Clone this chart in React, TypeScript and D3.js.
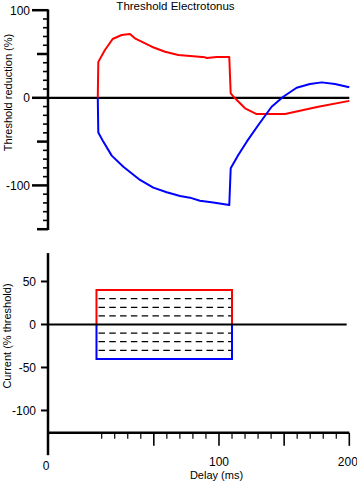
import React from "react";
import * as d3 from "d3";

// ---- data ----
const tedDelay = [7, 7.4, 12.5, 18.4, 25.3, 31.7, 35.5, 48.4, 58.6, 68.8, 89.3, 90.6, 98.2, 107.9, 109, 112.3, 120, 128.9, 150.7, 176.2, 200];
const tedValue = [0, 41, 54.6, 67.1, 71.7, 72.8, 67.9, 58.3, 52.6, 48.9, 46.2, 45.4, 46.6, 46.6, 5, -0.6, -12, -18.6, -18.5, -10.3, -3.5];

const tehDelay = [7, 7.4, 11.2, 17.7, 26.6, 39.4, 49.6, 59.9, 70.1, 77.7, 85.4, 95.6, 107.9, 109, 114.8, 121.3, 130.2, 140.4, 149.3, 159.6, 169.8, 178.8, 189, 200];
const tehValue = [0, -39.5, -50, -66, -78.7, -93.8, -102.6, -107.9, -112, -114, -117.5, -119.4, -122.4, -80.4, -65.3, -50.1, -31.1, -10.2, 1.2, 11.5, 15.7, 17.6, 15.7, 12];

const pulseStart = 6;
const pulseEnd = 110;
const pulseDepol = 40;
const pulseHyperpol = -40;
const dashedLevels = [30, 20, 10, -10, -20, -30];

const topTickValues = d3.range(-150, 101, 10);
const topTickLabels = [100, 0, -100];
const bottomTickValues = [50, 0, -50, -100];
const xMinorTicks = d3.range(10, 201, 10);
const xTickLabels = [
  { value: 100, label: "100" },
  { value: 200, label: "200" },
];

const title = "Threshold Electrotonus";
const topYLabel = "Threshold reduction (%)";
const bottomYLabel = "Current (% threshold)";
const xLabel = "Delay (ms)";

const W = 357;
const H = 482;
const FONT = "'Liberation Sans', Arial, sans-serif";

export default function App() {
  const x = d3.scaleLinear().domain([-31.2, 200]).range([48, 349.3]);
  const yTop = d3.scaleLinear().domain([-150, 100]).range([229.2, 10.2]);
  const yBot = d3.scaleLinear().domain([-152, 83]).range([455.2, 253.1]);
  const xAxisLevel = -126;

  const lineTop = d3
    .line<[number, number]>()
    .x((d) => x(d[0]))
    .y((d) => yTop(d[1]));
  const lineBot = d3
    .line<[number, number]>()
    .x((d) => x(d[0]))
    .y((d) => yBot(d[1]));

  const tedPts: [number, number][] = tedDelay.map((d, i) => [d, tedValue[i]]);
  const tehPts: [number, number][] = tehDelay.map((d, i) => [d, tehValue[i]]);

  const redPulse: [number, number][] = [
    [pulseStart, 0],
    [pulseStart, pulseDepol],
    [pulseEnd, pulseDepol],
    [pulseEnd, 0],
  ];
  const bluePulse: [number, number][] = [
    [pulseStart, 0],
    [pulseStart, pulseHyperpol],
    [pulseEnd, pulseHyperpol],
    [pulseEnd, 0],
  ];

  const axisX = x(x.domain()[0]);
  const xEnd = x(200);

  const tickLen = (v: number) => (v % 100 === 0 ? 16 : v % 50 === 0 ? 11 : 5);

  return (
    <svg
      width={W}
      height={H}
      style={{ position: "absolute", left: 0, top: 0, background: "#fff" }}
      fontFamily={FONT}
    >
      {/* title */}
      <text x={175.5} y={9.5} fontSize={11.5} textAnchor="middle" fill="#000">
        {title}
      </text>

      {/* ---------- top panel ---------- */}
      <line x1={axisX} x2={axisX} y1={yTop(100) - 0.8} y2={yTop(-150) + 0.8} stroke="#000" strokeWidth={2.5} />
      {topTickValues.map((v) => (
        <line
          key={"tt" + v}
          x1={axisX - tickLen(v)}
          x2={axisX}
          y1={yTop(v)}
          y2={yTop(v)}
          stroke="#000"
          strokeWidth={v % 50 === 0 ? 2.5 : 1.6}
        />
      ))}
      {topTickLabels.map((v) => (
        <text key={"tl" + v} x={30} y={yTop(v)} dy="0.36em" fontSize={12} textAnchor="end" fill="#000">
          {v}
        </text>
      ))}
      <text
        transform={`translate(11.5,${92.5}) rotate(-90)`}
        fontSize={11}
        textAnchor="middle"
        fill="#000"
      >
        {topYLabel}
      </text>
      <line x1={axisX} x2={xEnd} y1={yTop(0)} y2={yTop(0)} stroke="#000" strokeWidth={2.2} />
      <path d={lineTop(tedPts) || ""} fill="none" stroke="#ff0000" strokeWidth={2} strokeLinejoin="round" />
      <path d={lineTop(tehPts) || ""} fill="none" stroke="#0000ff" strokeWidth={2} strokeLinejoin="round" />

      {/* ---------- bottom panel ---------- */}
      <line x1={axisX} x2={axisX} y1={yBot.range()[1]} y2={yBot.range()[0]} stroke="#000" strokeWidth={2.5} />
      {bottomTickValues.map((v) => (
        <g key={"bt" + v}>
          <line x1={axisX - 7} x2={axisX} y1={yBot(v)} y2={yBot(v)} stroke="#000" strokeWidth={2} />
          <text x={36} y={yBot(v)} dy="0.36em" fontSize={12} textAnchor="end" fill="#000">
            {v}
          </text>
        </g>
      ))}
      <text
        transform={`translate(10.5,${336}) rotate(-90)`}
        fontSize={11}
        textAnchor="middle"
        fill="#000"
      >
        {bottomYLabel}
      </text>

      {dashedLevels.map((v) => (
        <line
          key={"dl" + v}
          x1={x(pulseStart) + 2}
          x2={x(pulseEnd)}
          y1={yBot(v)}
          y2={yBot(v)}
          stroke="#000"
          strokeWidth={1.2}
          strokeDasharray="6.5,4.3"
        />
      ))}
      <path d={lineBot(redPulse) || ""} fill="none" stroke="#ff0000" strokeWidth={2} />
      <path d={lineBot(bluePulse) || ""} fill="none" stroke="#0000ff" strokeWidth={2} />
      <line x1={axisX} x2={x(198)} y1={yBot(0)} y2={yBot(0)} stroke="#000" strokeWidth={2.2} />

      {/* x axis */}
      <line x1={axisX} x2={xEnd} y1={yBot(xAxisLevel)} y2={yBot(xAxisLevel)} stroke="#000" strokeWidth={2.5} />
      {xMinorTicks.map((v) => (
        <line
          key={"xt" + v}
          x1={x(v)}
          x2={x(v)}
          y1={yBot(xAxisLevel)}
          y2={yBot(xAxisLevel) + (v % 50 === 0 ? 13 : 6)}
          stroke="#000"
          strokeWidth={v % 50 === 0 ? 1.6 : 1.2}
        />
      ))}
      <text x={axisX - 2} y={469.5} fontSize={12} textAnchor="middle" fill="#000">
        0
      </text>
      {xTickLabels.map((t) => (
        <text key={"xl" + t.value} x={x(t.value) - (t.value === 200 ? 1.5 : 0)} y={465.5} fontSize={12} textAnchor="middle" fill="#000">
          {t.label}
        </text>
      ))}
      <text x={216.5} y={479} fontSize={11} textAnchor="middle" fill="#000">
        {xLabel}
      </text>
    </svg>
  );
}
